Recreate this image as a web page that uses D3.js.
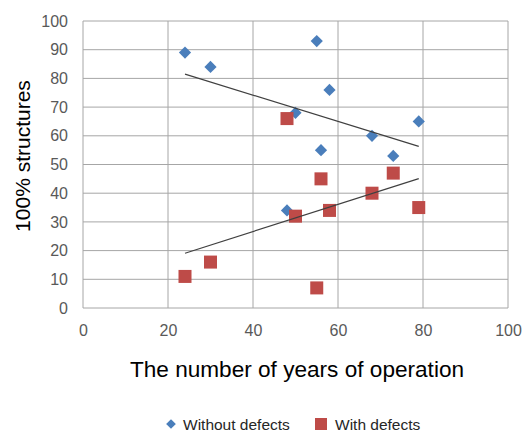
<!DOCTYPE html>
<html>
<head>
<meta charset="utf-8">
<script src="https://cdn.jsdelivr.net/npm/d3@7"></script>
<style>
  html, body { margin: 0; padding: 0; background: #fff; }
  svg { display: block; font-family: "Liberation Sans", Arial, sans-serif; }
</style>
</head>
<body>
<svg id="chart" width="522" height="435"></svg>
<script>
// Data
const yearsWithout = [24, 30, 55, 58, 50, 79, 68, 56, 73, 48];
const valuesWithout = [89, 84, 93, 76, 68, 65, 60, 55, 53, 34];
const yearsWith = [48, 56, 73, 68, 58, 50, 79, 55, 24, 30];
const valuesWith = [66, 45, 47, 40, 34, 32, 35, 7, 11, 16];
const xTicks = [0, 20, 40, 60, 80, 100];
const yTicks = [0, 10, 20, 30, 40, 50, 60, 70, 80, 90, 100];
const seriesNames = ["Without defects", "With defects"];
const xTitle = "The number of years of operation";
const yTitle = "100% structures";

(function () {
const svg = d3.select("#chart");
const pL = 83, pR = 508, pT = 21, pB = 308;

const x = d3.scaleLinear().domain([0, 100]).range([pL, pR]);
const y = d3.scaleLinear().domain([0, 100]).range([pB, pT]);

const gridColor = "#a6a6a6";

// Gridlines
svg.append("g").selectAll("line").data(yTicks).join("line")
  .attr("x1", pL).attr("x2", pR)
  .attr("y1", d => y(d)).attr("y2", d => y(d))
  .attr("stroke", gridColor).attr("stroke-width", 1);
svg.append("g").selectAll("line").data(xTicks).join("line")
  .attr("x1", d => x(d)).attr("x2", d => x(d))
  .attr("y1", pT).attr("y2", pB)
  .attr("stroke", gridColor).attr("stroke-width", 1);

// Axes (labels only)
const yAxis = svg.append("g").attr("transform", `translate(${pL},0)`)
  .call(d3.axisLeft(y).tickValues(yTicks).tickSize(0).tickPadding(15));
yAxis.select(".domain").remove();
yAxis.selectAll("text").attr("font-size", 16).attr("fill", "#595959")
  .attr("font-family", "Liberation Sans, Arial, sans-serif");

const xAxis = svg.append("g").attr("transform", `translate(0,${pB})`)
  .call(d3.axisBottom(x).tickValues(xTicks).tickSize(0).tickPadding(17));
xAxis.select(".domain").remove();
xAxis.selectAll("text").attr("font-size", 16).attr("fill", "#595959")
  .attr("font-family", "Liberation Sans, Arial, sans-serif");

// Titles
svg.append("text").attr("x", 297).attr("y", 377).attr("text-anchor", "middle")
  .attr("font-size", 22.6).attr("fill", "#000").text(xTitle);
svg.append("text").attr("transform", "translate(30,156) rotate(-90)")
  .attr("text-anchor", "middle").attr("font-size", 21).attr("fill", "#000").text(yTitle);

// Trend lines (least squares)
function fit(xs, ys) {
  const mx = d3.mean(xs), my = d3.mean(ys);
  let sxy = 0, sxx = 0;
  xs.forEach((v, i) => { sxy += (v - mx) * (ys[i] - my); sxx += (v - mx) ** 2; });
  const b = sxy / sxx, a = my - b * mx;
  const x0 = d3.min(xs), x1 = d3.max(xs);
  return [[x0, a + b * x0], [x1, a + b * x1]];
}
const line = d3.line().x(d => x(d[0])).y(d => y(d[1]));

const blue = "#4a7ebb", red = "#be4b48";
const without = yearsWithout.map((d, i) => [d, valuesWithout[i]]);
const withD = yearsWith.map((d, i) => [d, valuesWith[i]]);

// Markers
const diamond = d3.symbol().type(d3.symbolDiamond2).size(95);
svg.append("g").selectAll("path").data(without).join("path")
  .attr("d", diamond)
  .attr("transform", d => `translate(${x(d[0])},${y(d[1])})`)
  .attr("fill", blue);

svg.append("g").selectAll("rect").data(withD).join("rect")
  .attr("x", d => x(d[0]) - 6.5).attr("y", d => y(d[1]) - 6.5)
  .attr("width", 13).attr("height", 13)
  .attr("fill", red);

svg.append("path").attr("d", line(fit(yearsWithout, valuesWithout)))
  .attr("stroke", "#404040").attr("stroke-width", 1.2).attr("fill", "none");
svg.append("path").attr("d", line(fit(yearsWith, valuesWith)))
  .attr("stroke", "#404040").attr("stroke-width", 1.2).attr("fill", "none");

// Legend
svg.append("path").attr("d", d3.symbol().type(d3.symbolDiamond2).size(60)())
  .attr("transform", "translate(171,424)").attr("fill", blue);
svg.append("text").attr("x", 183).attr("y", 429.5).attr("font-size", 15.5)
  .attr("fill", "#262626").text(seriesNames[0]);
svg.append("rect").attr("x", 315).attr("y", 418).attr("width", 12).attr("height", 12)
  .attr("fill", red);
svg.append("text").attr("x", 335).attr("y", 429.5).attr("font-size", 15.5)
  .attr("fill", "#262626").text(seriesNames[1]);
})();
</script>
</body>
</html>
